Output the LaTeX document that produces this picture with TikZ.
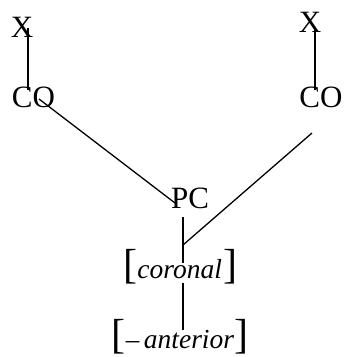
\documentclass[tikz,border=0pt]{standalone}
\usepackage{fontspec}
\setmainfont{Liberation Serif}
\newcommand{\brk}[1]{{\fontsize{42}{42}\selectfont #1}}
\newcommand{\itx}[1]{{\fontsize{27.5}{27.5}\selectfont\itshape #1}}
\begin{document}
\begin{tikzpicture}[x=1pt,y=-1pt,
  lab/.style={inner sep=0pt,anchor=base,font=\fontsize{31}{31}\selectfont},
  feat/.style={inner sep=0pt,anchor=base},
  edge/.style={line width=1.3pt}]
\useasboundingbox (0,0) rectangle (344,357);
% nodes
\node[lab] (xl) at (22,37) {X};
\node[lab] (xr) at (310,32) {X};
\node[lab] (col) at (33.5,107) {CO};
\node[lab] (cor) at (321,107) {CO};
\node[lab] (pc) at (190,208) {PC};
\node[feat] (coronal) at (180.5,278) {\brk{[}\itx{coronal}\,\brk{]}};
\node[feat] (anterior) at (180,348) {\brk{[}{\fontsize{27}{27}\selectfont–\,}\itx{anterior}\brk{]}};
% connector end points
\coordinate (xlb) at (28,28);
\coordinate (colt) at (28,90);
\coordinate (xrb) at (315,30);
\coordinate (cort) at (315,90);
\coordinate (cold) at (39,99);
\coordinate (pcl) at (175,203);
\coordinate (cord) at (312,133);
\coordinate (join) at (183,245);
\coordinate (pcb) at (183,217);
\coordinate (cortop) at (183,263);
\coordinate (corbot) at (183,283);
\coordinate (anttop) at (183,330);
% connectors
\draw[edge] (xlb) -- (colt);
\draw[edge] (xrb) -- (cort);
\draw[edge] (cold) -- (pcl);
\draw[edge] (cord) -- (join);
\draw[edge] (pcb) -- (cortop);
\draw[edge] (corbot) -- (anttop);
\end{tikzpicture}
\end{document}
